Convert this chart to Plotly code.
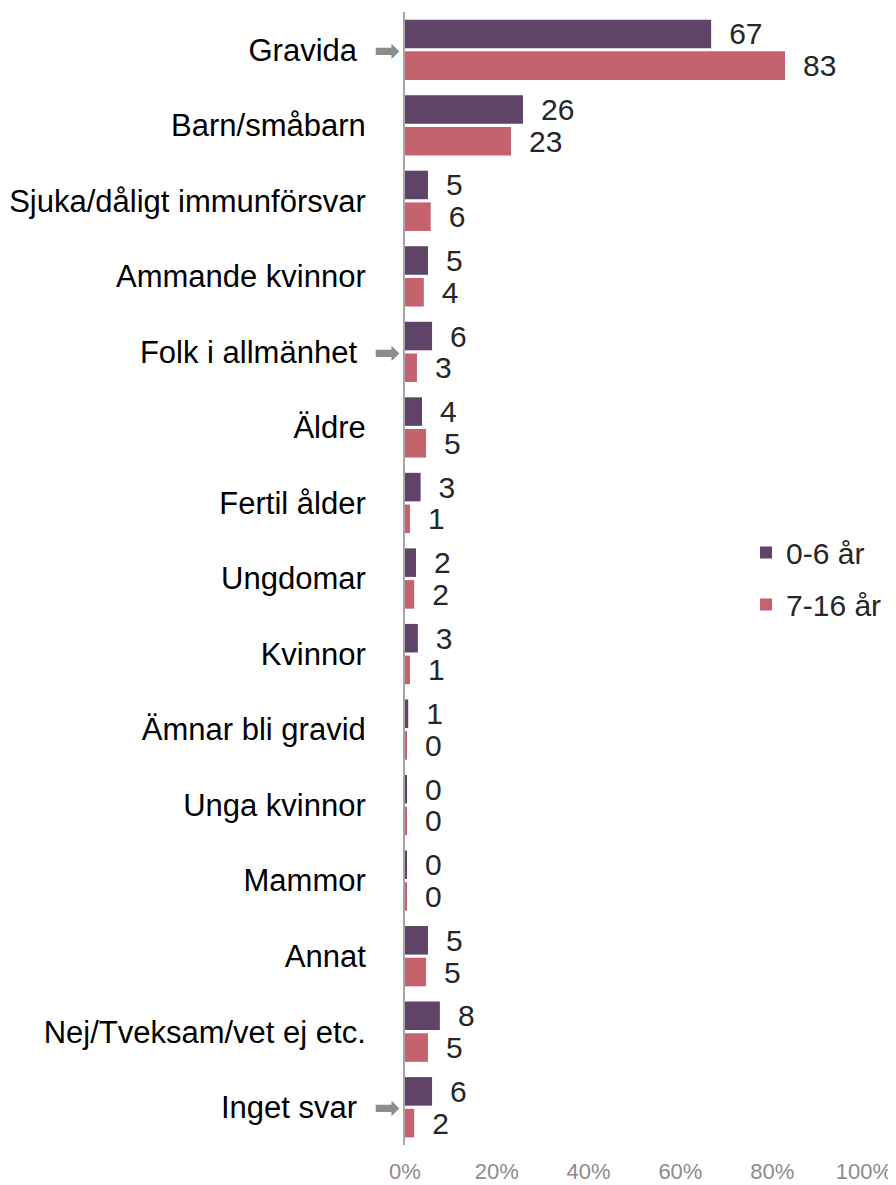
import plotly.graph_objects as go

categories = ["Gravida", "Barn/småbarn", "Sjuka/dåligt immunförsvar", "Ammande kvinnor",
              "Folk i allmänhet", "Äldre", "Fertil ålder", "Ungdomar", "Kvinnor",
              "Ämnar bli gravid", "Unga kvinnor", "Mammor", "Annat",
              "Nej/Tveksam/vet ej etc.", "Inget svar"]
series_names = ["0-6 år", "7-16 år"]
values_0_6 = [66.7, 25.7, 5.0, 5.0, 5.9, 3.7, 3.4, 2.4, 2.8, 0.7, 0.3, 0.3, 5.0, 7.6, 5.9]
values_7_16 = [82.8, 23.1, 5.6, 4.1, 2.6, 4.6, 1.1, 2.0, 1.1, 0.3, 0.3, 0.3, 4.6, 5.0, 2.0]
arrow_categories = ["Gravida", "Folk i allmänhet", "Inget svar"]
x_ticks = [0, 20, 40, 60, 80, 100]
x_ticklabels = ["0%", "20%", "40%", "60%", "80%", "100%"]

colors = ["#5f4467", "#c4626d"]
FONT = "Liberation Sans, Arial, sans-serif"

# category tick labels: a little trailing room for the ones that carry an arrow
cat_ticktext = [c + "\u2009\u200a" if c in arrow_categories else c for c in categories]

fig = go.Figure()
for name, vals, col in zip(series_names, [values_0_6, values_7_16], colors):
    fig.add_trace(go.Bar(
        y=categories, x=vals, orientation="h", name=name, legendgroup=name,
        marker=dict(color=col, line=dict(width=0)),
        texttemplate="\u2002%{x:.0f}", textposition="outside", constraintext="none",
        textfont=dict(size=30, color="#262626", family=FONT),
        cliponaxis=False,
    ))

for c in arrow_categories:
    fig.add_annotation(x=-18/459, y=c, xref="paper", yref="y", text="➡",
                       showarrow=False, xanchor="center", yanchor="middle",
                       font=dict(size=31, color="#8c8c8c", family="DejaVu Sans"))

fig.update_layout(
    width=888, height=1177,
    margin=dict(l=397, r=32, t=4, b=40),
    barmode="group", bargap=0.16, bargroupgap=0.1,
    plot_bgcolor="white", paper_bgcolor="white",
    font=dict(family=FONT, color="#000000"),
    showlegend=True,
    legend=dict(x=0.743, y=0.5, xanchor="left", yanchor="middle",
                font=dict(size=30, color="#262626", family=FONT),
                itemwidth=30, tracegroupgap=10, bgcolor="rgba(0,0,0,0)"),
)
fig.update_yaxes(autorange="reversed", showline=True, linecolor="#a6a6a6", linewidth=2,
                 tickmode="array", tickvals=categories, ticktext=cat_ticktext,
                 ticks="outside", ticklen=31, tickcolor="rgba(0,0,0,0)", automargin=False,
                 tickfont=dict(size=31, color="#000000", family=FONT), showgrid=False)
fig.update_xaxes(range=[0, 100], tickvals=x_ticks, ticktext=x_ticklabels,
                 showgrid=False, zeroline=False, showline=False, automargin=False,
                 ticks="outside", ticklen=7, tickcolor="rgba(0,0,0,0)",
                 tickfont=dict(size=22, color="#8c8c8c", family=FONT))

fig.write_html("out.html")
